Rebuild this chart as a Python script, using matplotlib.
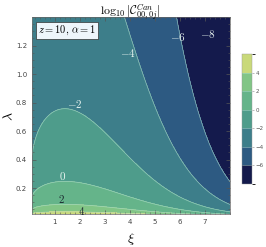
import matplotlib
matplotlib.use("Agg")
import matplotlib.pyplot as plt
from matplotlib.colors import ListedColormap, BoundaryNorm
from matplotlib.ticker import MultipleLocator
import numpy as np

plt.rcParams['mathtext.fontset'] = 'cm'

# axis ranges and ticks
xi_range = (0.08, 8.0)
lam_range = (0.015, 1.4)
x_ticks = [1, 2, 3, 4, 5, 6, 7]
y_ticks = [0.2, 0.4, 0.6, 0.8, 1.0, 1.2]

# contour levels and band colours (low -> high)
levels = [-8, -6, -4, -2, 0, 2, 4, 6]
band_colors = ['#141a4c', '#2d5a82', '#3d7e8a', '#4e9c8b',
               '#65b48a', '#82c586', '#c9d97a']
cbar_ticks = [-6, -4, -2, 0, 2, 4]

# fitted coefficients of log10|C| ~ c0 + a*log10(xi) - b*xi^2 - p*log10(lam) + d/lam
c0, a_xi, b_xi, p_lam, d_lam = -2.44, 0.98, 0.109, 4.0, 0.02

# contour labels
label_text = ['-8', '-6', '-4', '-2', '0', '2', '4']
label_xi = [7.1, 5.9, 3.9, 1.8, 1.3, 1.24, 2.05]
label_lam = [1.28, 1.26, 1.15, 0.79, 0.285, 0.12, 0.042]
label_dark = [False, False, False, False, False, True, True]

xi = np.linspace(xi_range[0], xi_range[1], 400)
lam = np.geomspace(lam_range[0], lam_range[1], 400)
X, L = np.meshgrid(xi, lam)
Z = c0 + a_xi * np.log10(X) - b_xi * X**2 - p_lam * np.log10(L) + d_lam / L
Z = np.clip(Z, -7.99, 5.99)

cmap = ListedColormap(band_colors)
norm = BoundaryNorm(levels, cmap.N)

fig = plt.figure(figsize=(2.66, 2.47), dpi=100)
ax = fig.add_axes([0.120, 0.132, 0.745, 0.799])
cs = ax.contourf(X, L, Z, levels=levels, cmap=cmap, norm=norm)
ax.contour(X, L, Z, levels=levels[1:-1], colors='#b5e0d0', linewidths=0.5,
           alpha=0.7, linestyles='solid')

ax.set_xlim(*xi_range)
ax.set_ylim(*lam_range)
ax.set_xticks(x_ticks)
ax.set_yticks(y_ticks)
ax.set_yticklabels(['%.1f' % v for v in y_ticks])
ax.xaxis.set_minor_locator(MultipleLocator(0.2))
ax.yaxis.set_minor_locator(MultipleLocator(0.05))
ax.tick_params(which='both', direction='in', top=True, right=True,
               labelsize=5, labelcolor='#444444', color='#555555')
ax.tick_params(which='major', length=3, width=0.5)
ax.tick_params(which='minor', length=1.5, width=0.4)
for sp in ax.spines.values():
    sp.set_linewidth(0.5)
    sp.set_color('#666666')

for t, x, y, dk in zip(label_text, label_xi, label_lam, label_dark):
    ax.text(x, y, r'$%s$' % t, fontsize=8,
            color='#1c2a30' if dk else '#e8f4f0', ha='center', va='center')

ax.text(0.03, 0.965, r'$z=10,\,\alpha=1$', transform=ax.transAxes, fontsize=7.5,
        ha='left', va='top',
        bbox=dict(boxstyle='square,pad=0.2', facecolor='#eef6fb',
                  edgecolor='#333333', linewidth=0.5))

fig.text(0.49, 0.992, r'$\log_{10}|\mathcal{C}^{Can}_{00,0j}|$', fontsize=8.5,
         ha='center', va='top')
ax.set_xlabel(r'$\xi$', fontsize=10, labelpad=4)
ax.set_ylabel(r'$\lambda$', fontsize=10)
ax.yaxis.set_label_coords(-0.08, 0.5)

cax = fig.add_axes([0.910, 0.255, 0.0376, 0.526])
cb = fig.colorbar(cs, cax=cax, ticks=cbar_ticks)
cb.outline.set_linewidth(0.3)
cb.outline.set_edgecolor('#999999')
cb.ax.tick_params(labelsize=4, labelcolor='#555555', length=1.5, width=0.4,
                  color='#888888', direction='out', pad=1)
cb.ax.set_yticklabels(['\u2212%d' % -v if v < 0 else '%d' % v for v in cbar_ticks])
for lv in levels[1:-1]:
    cb.ax.axhline(lv, color='#b5e0d0', linewidth=0.4, alpha=0.8)

fig.savefig('out.png', dpi=100)
